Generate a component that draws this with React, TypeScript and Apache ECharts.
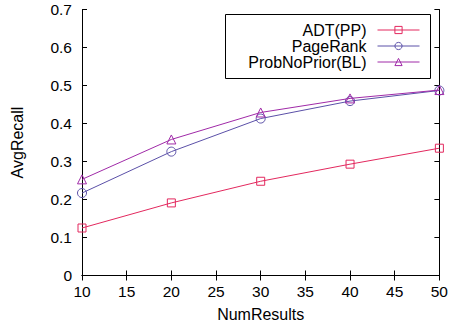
import React, { useEffect, useRef } from "react";
import * as echarts from "echarts";

const numResults = [10, 20, 30, 40, 50];
const adtPP = [0.125, 0.191, 0.248, 0.293, 0.335];
const pageRank = [0.217, 0.326, 0.413, 0.459, 0.487];
const probNoPrior = [0.253, 0.358, 0.429, 0.466, 0.488];
const seriesNames = ["ADT(PP)", "PageRank", "ProbNoPrior(BL)"];
const colors = ["#e3285e", "#5b50a8", "#a02aa8"];
const symbols = ["rect", "circle", "triangle"];

const FONT = "Liberation Sans, Arial, Helvetica, sans-serif";

export default function App() {
  const ref = useRef<HTMLDivElement>(null);
  useEffect(() => {
    if (!ref.current) return;
    const chart = echarts.init(ref.current, null, { renderer: "svg" });
    const values = [adtPP, pageRank, probNoPrior];
    const axisLine = { show: true, lineStyle: { color: "#000", width: 1 } };
    const tick = { show: true, inside: true, length: 5, lineStyle: { color: "#000", width: 1 } };
    const legendTops = [22, 38, 54];
    chart.setOption({
      animation: false,
      backgroundColor: "#fff",
      grid: { left: 82, right: 11, top: 9.5, bottom: 52.5, containLabel: false },
      graphic: [
        {
          type: "rect",
          z: 3,
          shape: { x: 225.5, y: 14.5, width: 205, height: 64 },
          style: { fill: "#fff", stroke: "#000", lineWidth: 1 },
        },
      ],
      xAxis: [
        {
          type: "value",
          min: 10,
          max: 50,
          interval: 5,
          name: "NumResults",
          nameLocation: "middle",
          nameGap: 31,
          nameTextStyle: { fontFamily: FONT, fontSize: 16, color: "#000" },
          axisLine,
          axisTick: tick,
          splitLine: { show: false },
          axisLabel: { fontFamily: FONT, fontSize: 15.5, color: "#000", margin: 8 },
        },
        {
          type: "value",
          position: "top",
          min: 10,
          max: 50,
          interval: 5,
          axisLine,
          axisTick: tick,
          splitLine: { show: false },
          axisLabel: { show: false },
        },
      ],
      yAxis: [
        {
          type: "value",
          min: 0,
          max: 0.7,
          interval: 0.1,
          name: "AvgRecall",
          nameLocation: "middle",
          nameGap: 57,
          nameRotate: 90,
          nameTextStyle: { fontFamily: FONT, fontSize: 16, color: "#000" },
          axisLine,
          axisTick: tick,
          splitLine: { show: false },
          axisLabel: {
            fontFamily: FONT,
            fontSize: 15.5,
            color: "#000",
            margin: 10,
            formatter: (v: number) => (v === 0 ? "0" : v.toFixed(1)),
          },
        },
        {
          type: "value",
          position: "right",
          min: 0,
          max: 0.7,
          interval: 0.1,
          axisLine,
          axisTick: tick,
          splitLine: { show: false },
          axisLabel: { show: false },
        },
      ],
      legend: seriesNames.map((name, i) => ({
        orient: "vertical",
        right: 31,
        top: legendTops[i],
        align: "right",
        itemWidth: 42,
        itemHeight: 9,
        padding: 0,
        z: 5,
        selectedMode: false,
        itemStyle: { color: "rgba(255,255,255,0)", borderColor: colors[i], borderWidth: 1 },
        lineStyle: { color: colors[i], width: 1 },
        textStyle: {
          fontFamily: FONT,
          fontSize: 16,
          lineHeight: 16,
          color: "#000",
          padding: [0, 6, 0, 0],
        },
        data: [name],
      })),
      series: seriesNames.map((name, i) => ({
        name,
        type: "line",
        data: numResults.map((x, j) => [x, values[i][j]]),
        symbol: symbols[i],
        symbolSize: i === 0 ? 8 : 9,
        showAllSymbol: true,
        lineStyle: { color: colors[i], width: 1 },
        itemStyle: { color: "rgba(255,255,255,0)", borderColor: colors[i], borderWidth: 1 },
        emphasis: { disabled: true },
        z: 3 + i,
      })),
    });
    return () => chart.dispose();
  }, []);
  return (
    <div
      ref={ref}
      style={{ position: "fixed", left: 0, top: 0, width: 451, height: 328 }}
    />
  );
}
